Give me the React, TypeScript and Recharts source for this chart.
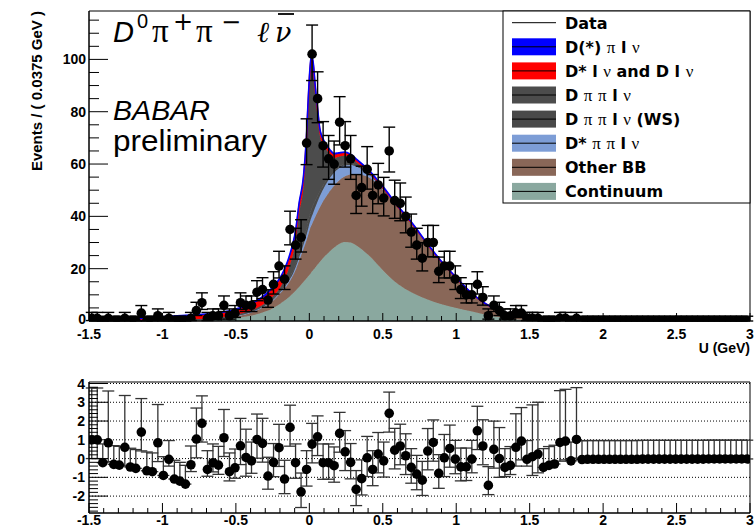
import React from 'react';
import { ComposedChart, Area, Scatter, ErrorBar, XAxis, YAxis, ReferenceLine, ReferenceArea } from 'recharts';

// ---------- binning ----------
const uMin = -1.5;
const uMax = 3;
const binWidth = 0.0375;

// ---------- data: events per bin (120 bins) ----------
const dataCounts = [
  1, 1, 0, 1, 0, 0, 1, 0, 0, 3,
  0, 0, 2, 0, 1, 0, 0, 0, 1, 4,
  7, 1, 2, 2, 6, 2, 3, 7, 6, 6,
  11, 12, 8, 14, 21, 16, 35, 29, 32, 68,
  102, 85, 67, 62, 60, 76, 67, 62, 48, 51,
  58, 48, 52, 47, 65, 46, 45, 40, 34, 29,
  24, 30, 30, 19, 21, 21, 16, 12, 10, 10,
  14, 9, 2, 6, 4, 2, 2, 3, 3, 1,
  1, 1, 0, 0, 0, 1, 1, 0, 1, 0,
  0, 0, 0, 0, 0, 0, 0, 0, 0, 0,
  0, 0, 0, 0, 0, 0, 0, 0, 0, 0,
  0, 0, 0, 0, 0, 0, 0, 0, 0, 0,
];

// ---------- pulls per bin ----------
const pulls = [
  1.0, 1.0, -0.22, 0.84, -0.31, -0.35, 0.6, -0.45, -0.52, 1.41,
  -0.65, -0.7, 0.84, -0.9, -0.04, -1.09, -1.2, -1.36, -0.33, 1.04,
  1.88, -0.58, -0.22, -0.35, 1.11, -0.7, -0.49, 0.68, 0.06, -0.12,
  1.02, 0.81, -0.93, -0.2, 0.58, -1.09, 1.66, -0.22, -1.77, -0.58,
  0.77, 1.16, -0.22, -0.22, -0.38, 1.34, 0.36, -0.2, -1.64, -1.07,
  0.04, -0.58, 0.24, -0.12, 2.41, 0.45, 0.67, 0.15, -0.47, -0.83,
  -1.15, 0.4, 0.86, -0.79, 0.04, 0.54, -0.03, -0.44, -0.44, -0.03,
  1.48, 0.67, -1.43, 0.49, 0.0, -0.47, -0.36, 0.6, 0.93, -0.04,
  0.1, 0.24, -0.47, -0.36, -0.29, 0.86, 0.93, -0.12, 1.02, -0.05,
  -0.04, -0.04, -0.04, -0.04, -0.04, -0.04, -0.04, -0.04, -0.04, -0.04,
  -0.03, -0.03, -0.03, -0.03, -0.03, -0.03, -0.03, -0.03, -0.03, -0.03,
  -0.03, -0.03, -0.02, -0.02, -0.02, -0.02, -0.02, -0.02, -0.02, -0.02,
];

// ---------- fit components (sampled along U) ----------
const curveU = [
  -1.5, -1.3, -1.1, -1.0, -0.9, -0.8, -0.7, -0.6, -0.5, -0.4,
  -0.3, -0.25, -0.2, -0.17, -0.15, -0.13, -0.11, -0.09, -0.07, -0.04,
  -0.02, -0.01, 0, 0.01, 0.018, 0.028, 0.04, 0.055, 0.07, 0.09,
  0.11, 0.14, 0.17, 0.2, 0.24, 0.28, 0.32, 0.4, 0.5, 0.6,
  0.7, 0.8, 0.9, 1.0, 1.1, 1.2, 1.3, 1.4, 1.5, 1.6,
  1.7, 1.8, 2.0, 2.5, 3.0,
];
const continuum = [
  0, 0, 0.02, 0.05, 0.1, 0.2, 0.35, 0.6, 1.1, 2.0,
  3.6, 4.8, 6.5, 7.7, 8.6, 9.6, 10.6, 11.8, 13, 14.9,
  16.2, 16.9, 17.6, 18.3, 18.9, 19.6, 20.4, 21.5, 22.5, 23.8,
  25, 26.7, 28.1, 29.3, 30.2, 30, 28.9, 25.3, 19.4, 14.2,
  10.8, 8.3, 6.4, 5.0, 3.7, 2.4, 1.4, 0.7, 0.3, 0.1,
  0.04, 0.02, 0, 0, 0,
];
const otherBB = [
  0.05, 0.1, 0.13, 0.15, 0.2, 0.25, 0.35, 0.5, 0.7, 1.2,
  2.1, 2.8, 4.0, 4.6, 5.2, 5.9, 6.9, 8.2, 10.0, 12.6,
  14.6, 15.6, 16.9, 17.7, 18.1, 18.7, 19.4, 20.1, 20.8, 21.6,
  22.2, 23.0, 23.7, 24.3, 25.0, 26.0, 27.2, 29.7, 30.8, 29.3,
  26.2, 21.25, 16.1, 11.5, 7.1, 4.1, 2.4, 1.42, 0.8, 0.57,
  0.29, 0.15, 0.08, 0.04, 0.02,
];
const dstarPiPiLnu = [
  0, 0, 0, 0, 0, 0, 0.02, 0.05, 0.08, 0.12,
  0.2, 0.3, 0.4, 0.5, 0.6, 0.7, 0.8, 1.0, 1.2, 1.6,
  2.0, 2.3, 2.6, 2.9, 3.1, 3.3, 3.6, 3.9, 4.2, 4.5,
  4.8, 5.0, 5.0, 4.7, 4.2, 3.6, 3.0, 1.6, 0.4, 0.1,
  0.02, 0, 0, 0, 0, 0, 0, 0, 0, 0,
  0, 0, 0, 0, 0,
];
const dPiPiLnuWS = [
  0.02, 0.02, 0.04, 0.07, 0.1, 0.1, 0.08, 0.15, 0.25, 0.3,
  0.4, 0.5, 0.6, 0.7, 0.8, 0.9, 1.0, 1.2, 1.5, 1.8,
  2.2, 2.5, 2.8, 3.0, 3.0, 2.9, 2.6, 2.2, 1.8, 1.5,
  1.2, 0.9, 0.7, 0.6, 0.5, 0.4, 0.2, 0.05, 0.02, 0,
  0, 0, 0, 0, 0, 0, 0, 0, 0, 0,
  0, 0, 0, 0, 0,
];
const dPiPiLnu = [
  0.03, 0.03, 0.06, 0.13, 0.2, 0.15, 0.1, 0.1, 0.27, 0.38,
  0.6, 0.95, 1.2, 2.35, 3.25, 4.75, 6.5, 9.65, 15.2, 20.45,
  31.5, 41.3, 49.8, 54.95, 55.4, 50.6, 41.2, 31.7, 22.3, 16.4,
  12.8, 8.1, 4.85, 3.9, 3.3, 2.5, 1.4, 0.3, 0.1, 0.03,
  0.01, 0, 0, 0, 0, 0, 0, 0, 0, 0,
  0, 0, 0, 0, 0,
];
const dstarLnu = [
  0.12, 0.3, 0.65, 0.85, 1.05, 1.3, 1.45, 1.6, 1.85, 2.2,
  2.7, 3.0, 3.2, 3.3, 3.35, 3.4, 3.4, 3.3, 3.2, 2.9,
  2.6, 2.45, 2.3, 2.2, 2.1, 2.05, 2.0, 1.9, 1.8, 1.65,
  1.5, 1.35, 1.25, 1.15, 1.05, 0.95, 0.85, 0.6, 0.35, 0.2,
  0.12, 0.07, 0.04, 0.02, 0, 0, 0, 0, 0, 0,
  0, 0, 0, 0, 0,
];
const dxPiLnu = [
  0.08, 0.15, 0.3, 0.35, 0.35, 0.3, 0.3, 0.3, 0.35, 0.4,
  0.5, 0.55, 0.6, 0.65, 0.7, 0.75, 0.8, 0.85, 0.9, 0.95,
  1.0, 1.0, 1.0, 0.95, 0.9, 0.85, 0.8, 0.7, 0.6, 0.55,
  0.5, 0.45, 0.4, 0.35, 0.35, 0.35, 0.35, 0.4, 0.4, 0.35,
  0.3, 0.25, 0.2, 0.15, 0.1, 0.1, 0.1, 0.08, 0.05, 0.03,
  0.01, 0.01, 0, 0, 0,
];

// ---------- axis ticks ----------
const xTicks = Array.from({ length: 46 }, (_, i) => Math.round((uMin + i * 0.1) * 10) / 10);
const yTicksMain = Array.from({ length: 24 }, (_, i) => i * 5);
const yTicksResid = Array.from({ length: 35 }, (_, i) => Math.round((-2.8 + i * 0.2) * 10) / 10);
const residGrid = [-2, -1, 0, 1, 2, 3, 4];
const mainYMax = 118.5;
const residDomain: [number, number] = [-2.9, 4.08];

// ---------- series styling ----------
const layers = [
  { key: 'cont', name: 'Continuum', color: '#8aa89f', values: continuum },
  { key: 'bb', name: 'Other BB', color: '#896758', values: otherBB },
  { key: 'dspp', name: 'D* π π l ν', color: '#7d9dd6', values: dstarPiPiLnu },
  { key: 'dppws', name: 'D π π l ν (WS)', color: '#494949', values: dPiPiLnuWS },
  { key: 'dpp', name: 'D π π l ν', color: '#4c4c4c', values: dPiPiLnu },
  { key: 'dslnu', name: 'D* l ν and D l ν', color: '#ff0000', values: dstarLnu },
  { key: 'dxpi', name: 'D(*) π l ν', color: '#0000ff', values: dxPiLnu },
];

// Poisson 68% interval (Wilson-Hilferty approximation), as used for the data error bars
function poissonErr(n: number): [number, number] {
  const lo = n > 0 ? n - n * Math.pow(1 - 1 / (9 * n) - 1 / (3 * Math.sqrt(n)), 3) : 0;
  const m = n + 1;
  const hi = m * Math.pow(1 - 1 / (9 * m) + 1 / (3 * Math.sqrt(m)), 3) - n;
  return [lo, hi];
}

const binCenter = (i: number) => uMin + binWidth * (i + 0.5);

const curveRows = curveU.map((x, i) => {
  const row: any = { x };
  layers.forEach((l) => { row[l.key] = l.values[i]; });
  return row;
});

const mainPoints = dataCounts.map((n, i) => ({ x: binCenter(i), n, err: poissonErr(n) }));

const residPoints = pulls.map((p, i) => {
  const n = dataCounts[i];
  const [lo, hi] = poissonErr(n);
  const err = p >= 0 && n > 0 ? [1, hi / lo] : [n > 0 ? lo / hi : 0, 1];
  return { x: binCenter(i), p, err };
});

const SANS = "'Liberation Sans', Arial, Helvetica, sans-serif";
const DSANS = "'DejaVu Sans', 'Liberation Sans', sans-serif";
const SERIF = "'DejaVu Serif', 'Liberation Serif', serif";
const TSERIF = "'Liberation Serif', 'DejaVu Serif', serif";

const isHalf = (v: number) => Math.abs(v * 2 - Math.round(v * 2)) < 1e-6;
const isInt = (v: number) => Math.abs(v - Math.round(v)) < 1e-6;

const makeXTick = (majorLen: number, minorLen: number, labelDy: number) => (props: any) => {
  const { x, y, payload } = props;
  const v = payload.value;
  const major = isHalf(v);
  return (
    <g>
      <line x1={x} x2={x} y1={y} y2={y - (major ? majorLen : minorLen)} stroke="#000" strokeWidth={1} />
      {major && (
        <text x={x} y={y + labelDy} textAnchor="middle" dominantBaseline="central"
          style={{ fontFamily: SANS, fontWeight: 700, fontSize: 14 }} fill="#000">
          {String(v)}
        </text>
      )}
    </g>
  );
};

const makeYTick = (isMajor: (v: number) => boolean, majorLen: number, minorLen: number, gap: number, zeroLift: number) => (props: any) => {
  const { x, y, payload } = props;
  const v = payload.value;
  const major = isMajor(v);
  return (
    <g>
      <line x1={x} x2={x + (major ? majorLen : minorLen)} y1={y} y2={y} stroke="#000" strokeWidth={1} />
      {major && (
        <text x={x - gap} y={v === 0 ? y - zeroLift : y} textAnchor="end" dominantBaseline="central"
          style={{ fontFamily: SANS, fontWeight: 700, fontSize: 14 }} fill="#000">
          {String(Math.round(v))}
        </text>
      )}
    </g>
  );
};

const MainXTick = makeXTick(8, 5, 13);
const ResidXTick = makeXTick(10, 5, 6.5);
const MainYTick = makeYTick((v) => v % 20 === 0, 19, 10, 3, 2);
const ResidYTick = makeYTick(isInt, 19, 9, 4, 0);

const Dot = (props: any) => <circle cx={props.cx} cy={props.cy} r={4.8} fill="#000" />;

const legendRows = [{ name: 'Data', color: '' }, ...layers.slice().reverse().map((l) => ({ name: l.name, color: l.color }))];

function LegendLabel({ text, x, y }: { text: string; x: number; y: number }) {
  const parts = text.split(/([πν])/).filter((s) => s.length > 0);
  return (
    <text x={x} y={y} style={{ whiteSpace: 'pre' }} fill="#000">
      {parts.map((p, i) =>
        p === 'π' || p === 'ν' ? (
          <tspan key={i} style={{ fontFamily: TSERIF, fontWeight: 400, fontSize: 17 }}>{p}</tspan>
        ) : (
          <tspan key={i} style={{ fontFamily: DSANS, fontWeight: 700, fontSize: 16 }}>{p}</tspan>
        )
      )}
    </text>
  );
}

export default function App() {
  return (
    <div style={{ position: 'absolute', left: 0, top: 0, width: 756, height: 527, background: '#fff', overflow: 'hidden' }}>
      <div style={{ position: 'absolute', left: 0, top: 0 }}>
        <ComposedChart width={756} height={350} data={curveRows} margin={{ top: 11, right: 6, bottom: 0, left: 0 }}>
          {layers.map((l) => (
            <Area
              key={l.key}
              type="monotone"
              dataKey={l.key}
              name={l.name}
              stackId="fit"
              stroke={l.color}
              strokeWidth={l.key === 'dxpi' || l.key === 'dslnu' ? 1.6 : 1}
              fill={l.color}
              fillOpacity={1}
              dot={false}
              activeDot={false}
              isAnimationActive={false}
            />
          ))}
          <Scatter data={mainPoints} dataKey="n" name="Data" shape={Dot} isAnimationActive={false}>
            <ErrorBar dataKey="err" direction="y" width={6} stroke="#000" strokeWidth={1.4} />
          </Scatter>
          <XAxis type="number" dataKey="x" domain={[uMin, uMax]} allowDataOverflow ticks={xTicks} interval={0}
            tick={MainXTick} tickLine={false} tickSize={0} tickMargin={0} height={29} axisLine={{ stroke: '#000' }} />
          <YAxis type="number" domain={[0, mainYMax]} allowDataOverflow ticks={yTicksMain} interval={0}
            tick={MainYTick} tickLine={false} tickSize={0} tickMargin={0} width={89} axisLine={{ stroke: '#000' }} />
          <ReferenceArea x1={uMin} x2={uMax} y1={0} y2={mainYMax} fill="none" stroke="#000" strokeWidth={1} />
        </ComposedChart>
      </div>
      <div style={{ position: 'absolute', left: 0, top: 350 }}>
        <ComposedChart width={756} height={177} data={residPoints} margin={{ top: 32, right: 6, bottom: 0, left: 0 }}>
          {residGrid.map((g) => (
            <ReferenceLine key={g} y={g} stroke="#000" strokeWidth={1} strokeDasharray="1 2" />
          ))}
          <Scatter data={residPoints} dataKey="p" name="Pull" shape={Dot} isAnimationActive={false}>
            <ErrorBar dataKey="err" direction="y" width={6} stroke="#333" strokeWidth={1.3} />
          </Scatter>
          <XAxis type="number" dataKey="x" domain={[uMin, uMax]} allowDataOverflow ticks={xTicks} interval={0}
            tick={ResidXTick} tickLine={false} tickSize={0} tickMargin={0} height={14} axisLine={{ stroke: '#000' }} />
          <YAxis type="number" domain={residDomain} allowDataOverflow ticks={yTicksResid} interval={0}
            tick={ResidYTick} tickLine={false} tickSize={0} tickMargin={0} width={89} axisLine={{ stroke: '#000' }} />
          <ReferenceArea x1={uMin} x2={uMax} y1={residDomain[0]} y2={residDomain[1]} fill="none" stroke="#000" strokeWidth={1} />
        </ComposedChart>
      </div>
      <svg width={756} height={527} style={{ position: 'absolute', left: 0, top: 0, pointerEvents: 'none' }}>
        {/* axis titles */}
        <text transform="translate(36,11) rotate(-90)" textAnchor="end" dominantBaseline="central"
          style={{ fontFamily: SANS, fontWeight: 700, fontSize: 15 }} fill="#000">
          Events / ( 0.0375 GeV )
        </text>
        <text x={750} y={353} textAnchor="end" style={{ fontFamily: SANS, fontWeight: 700, fontSize: 14 }} fill="#000">
          U (GeV)
        </text>
        {/* process label */}
        <text x={113} y={42} style={{ fontFamily: SANS, fontStyle: 'italic', fontSize: 29 }} fill="#000">D</text>
        <text x={137} y={28} style={{ fontFamily: SANS, fontSize: 20 }} fill="#000">0</text>
        <text x={152} y={42} style={{ fontFamily: TSERIF, fontSize: 33 }} fill="#000">π</text>
        <text x={173} y={30} style={{ fontFamily: DSANS, fontSize: 24 }} fill="#000">+</text>
        <text x={196} y={42} style={{ fontFamily: TSERIF, fontSize: 33 }} fill="#000">π</text>
        <text x={221} y={30} style={{ fontFamily: DSANS, fontSize: 24 }} fill="#000">−</text>
        <text x={257} y={42} style={{ fontFamily: SERIF, fontStyle: 'italic', fontSize: 29 }} fill="#000">ℓ</text>
        <text x={275} y={42} style={{ fontFamily: SERIF, fontStyle: 'italic', fontSize: 27 }} fill="#000">ν</text>
        <line x1={278} x2={294} y1={14} y2={14} stroke="#000" strokeWidth={1.8} />
        <text x={113} y={120} textLength={97} lengthAdjust="spacingAndGlyphs"
          style={{ fontFamily: SANS, fontStyle: 'italic', fontSize: 28 }} fill="#000">BABAR</text>
        <text x={113} y={151} textLength={154} lengthAdjust="spacingAndGlyphs"
          style={{ fontFamily: SANS, fontSize: 30 }} fill="#000">preliminary</text>
        {/* legend */}
        <rect x={503} y={11} width={247} height={192} fill="#fff" stroke="#000" strokeWidth={1} />
        {legendRows.map((r, k) => {
          const cy = 22.7 + 24.1 * k;
          return (
            <g key={r.name}>
              {r.color && <rect x={512} y={cy - 8.5} width={44} height={17} fill={r.color} />}
              <line x1={512} x2={556} y1={cy} y2={cy} stroke="#000" strokeWidth={1} />
              <LegendLabel text={r.name} x={565} y={cy + 6} />
            </g>
          );
        })}
      </svg>
    </div>
  );
}
